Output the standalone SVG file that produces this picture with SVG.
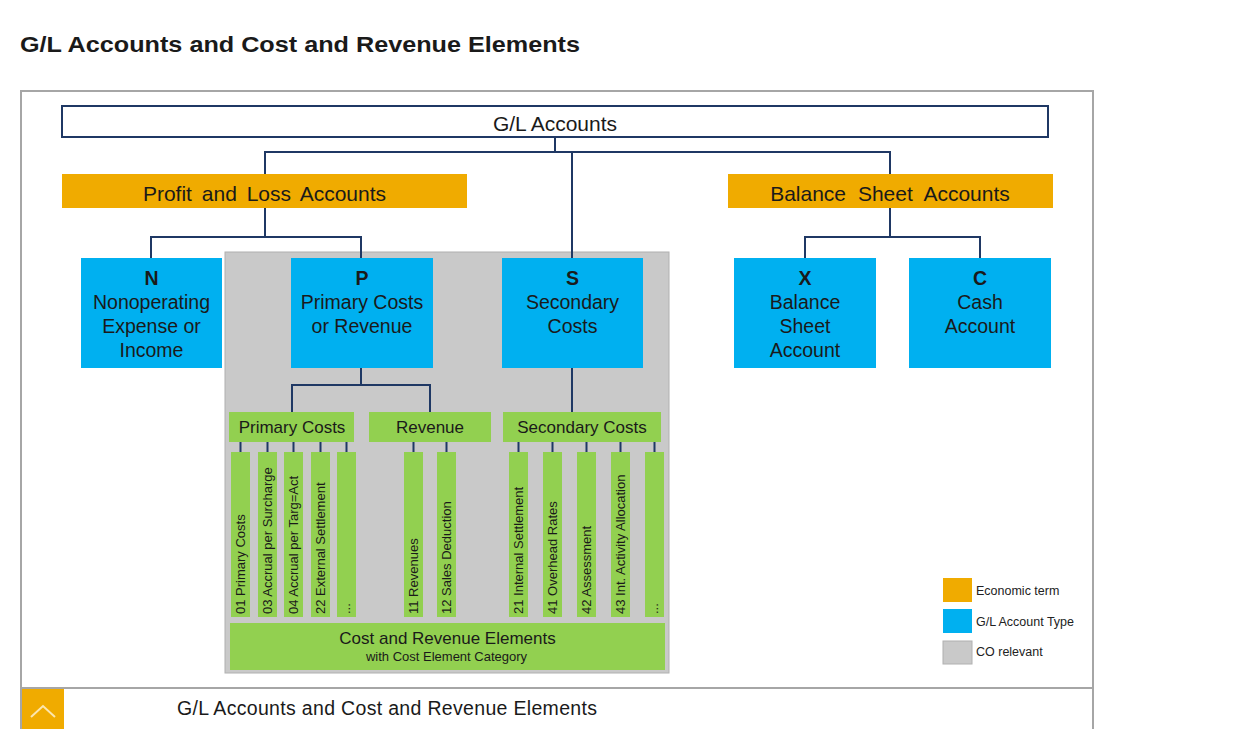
<svg xmlns="http://www.w3.org/2000/svg" width="1241" height="729" viewBox="0 0 1241 729">
<style>
  .frame{fill:none;stroke:#a6a6a6;stroke-width:2}
  .line{fill:none;stroke:#1f3864;stroke-width:2}
  .orange{fill:#f0ab00}
  .blue{fill:#00b0f0}
  .green{fill:#92d050}
  .grayarea{fill:#c9c9c9;stroke:#b0b0b0;stroke-width:1}
  text{font-family:"Liberation Sans",Arial,sans-serif;fill:#1a1a1a}
  .big{font-size:21px;text-anchor:middle}
  .node{font-size:19.5px;text-anchor:middle}
  .letter{font-weight:bold}
  .hdr{font-size:17px;text-anchor:middle}
  .bar{font-size:13px}
  .leg{font-size:12.5px;fill:#222}
</style>
<rect x="0" y="0" width="1241" height="729" fill="#ffffff"/>

<text x="20" y="52" font-size="22" font-weight="bold" textLength="560" lengthAdjust="spacingAndGlyphs" fill="#000">G/L Accounts and Cost and Revenue Elements</text>

<!-- frame -->
<g id="frame">
  <path class="frame" d="M21,729 V91 H1093 V729"/>
  <line class="frame" x1="21" y1="688" x2="1093" y2="688"/>
</g>

<!-- CO relevant area -->
<rect id="co-area" class="grayarea" x="225" y="252" width="444" height="421"/>

<!-- connectors -->
<g id="connectors">
  <path class="line" d="M555,137 V152 M265,174 V152 H890 V174 M572,152 V258"/>
  <path class="line" d="M265,208 V237 M151,258 V237 H361 V258"/>
  <path class="line" d="M890,208 V237 M805,258 V237 H980 V258"/>
  <path class="line" d="M361,368 V385 M292,412 V385 H430 V412"/>
  <path class="line" d="M572,368 V412"/>
  <path class="line" d="M240.5,442 V452 M267.5,442 V452 M293.5,442 V452 M320.5,442 V452 M346.5,442 V452 M413.5,442 V452 M446.5,442 V452 M518.5,442 V452 M552.5,442 V452 M586.5,442 V452 M620.5,442 V452 M654.5,442 V452"/>
</g>

<g id="gl-accounts">
  <rect x="62" y="106" width="986" height="31" fill="#fff" stroke="#1f3864" stroke-width="2"/>
  <text class="big" x="555" y="131">G/L Accounts</text>
</g>

<g id="pl-accounts">
  <rect class="orange" x="62" y="174" width="405" height="34"/>
  <text class="big" x="264.5" y="201" word-spacing="4">Profit and Loss Accounts</text>
</g>

<g id="bs-accounts">
  <rect class="orange" x="728" y="174" width="325" height="34"/>
  <text class="big" x="890" y="201" word-spacing="6">Balance Sheet Accounts</text>
</g>

<g id="node-n">
  <rect class="blue" x="81" y="258" width="141" height="110"/>
  <text class="node letter" x="151.5" y="285">N</text>
  <text class="node" x="151.5" y="309">Nonoperating</text>
  <text class="node" x="151.5" y="333">Expense or</text>
  <text class="node" x="151.5" y="357">Income</text>
</g>

<g id="node-p">
  <rect class="blue" x="291" y="258" width="142" height="110"/>
  <text class="node letter" x="362" y="285">P</text>
  <text class="node" x="362" y="309">Primary Costs</text>
  <text class="node" x="362" y="333">or Revenue</text>
</g>

<g id="node-s">
  <rect class="blue" x="502" y="258" width="141" height="110"/>
  <text class="node letter" x="572.5" y="285">S</text>
  <text class="node" x="572.5" y="309">Secondary</text>
  <text class="node" x="572.5" y="333">Costs</text>
</g>

<g id="node-x">
  <rect class="blue" x="734" y="258" width="142" height="110"/>
  <text class="node letter" x="805" y="285">X</text>
  <text class="node" x="805" y="309">Balance</text>
  <text class="node" x="805" y="333">Sheet</text>
  <text class="node" x="805" y="357">Account</text>
</g>

<g id="node-c">
  <rect class="blue" x="909" y="258" width="142" height="110"/>
  <text class="node letter" x="980" y="285">C</text>
  <text class="node" x="980" y="309">Cash</text>
  <text class="node" x="980" y="333">Account</text>
</g>

<g id="hdr-primary">
  <rect class="green" x="229" y="412" width="125" height="30"/>
  <text class="hdr" x="292" y="433">Primary Costs</text>
</g>
<g id="hdr-revenue">
  <rect class="green" x="369" y="412" width="122" height="30"/>
  <text class="hdr" x="430" y="433">Revenue</text>
</g>
<g id="hdr-secondary">
  <rect class="green" x="503" y="412" width="158" height="30"/>
  <text class="hdr" x="582" y="433">Secondary Costs</text>
</g>

<g id="bars">
  <rect class="green" x="231" y="452" width="19" height="165"/>
  <text class="bar" transform="translate(245,614) rotate(-90)">01 Primary Costs</text>
  <rect class="green" x="258" y="452" width="19" height="165"/>
  <text class="bar" transform="translate(272,614) rotate(-90)">03 Accrual per Surcharge</text>
  <rect class="green" x="284" y="452" width="19" height="165"/>
  <text class="bar" transform="translate(298,614) rotate(-90)">04 Accrual per Targ=Act</text>
  <rect class="green" x="311" y="452" width="19" height="165"/>
  <text class="bar" transform="translate(325,614) rotate(-90)">22 External Settlement</text>
  <rect class="green" x="337" y="452" width="19" height="165"/>
  <text class="bar" font-size="9" transform="translate(350,614) rotate(-90)">...</text>

  <rect class="green" x="404" y="452" width="19" height="165"/>
  <text class="bar" transform="translate(418,614) rotate(-90)">11 Revenues</text>
  <rect class="green" x="437" y="452" width="19" height="165"/>
  <text class="bar" transform="translate(451,614) rotate(-90)">12 Sales Deduction</text>

  <rect class="green" x="509" y="452" width="19" height="165"/>
  <text class="bar" transform="translate(523,614) rotate(-90)">21 Internal Settlement</text>
  <rect class="green" x="543" y="452" width="19" height="165"/>
  <text class="bar" transform="translate(557,614) rotate(-90)">41 Overhead Rates</text>
  <rect class="green" x="577" y="452" width="19" height="165"/>
  <text class="bar" transform="translate(591,614) rotate(-90)">42 Assessment</text>
  <rect class="green" x="611" y="452" width="19" height="165"/>
  <text class="bar" transform="translate(625,614) rotate(-90)">43 Int. Activity Allocation</text>
  <rect class="green" x="645" y="452" width="19" height="165"/>
  <text class="bar" font-size="9" transform="translate(658,614) rotate(-90)">...</text>
</g>

<g id="cost-revenue-elements">
  <rect class="green" x="230" y="623" width="435" height="47"/>
  <text x="447.5" y="644" font-size="17" text-anchor="middle">Cost and Revenue Elements</text>
  <text x="446.5" y="661" font-size="13" text-anchor="middle">with Cost Element Category</text>
</g>

<g id="legend">
  <rect class="orange" x="943" y="578" width="29" height="24"/>
  <text class="leg" x="976" y="595">Economic term</text>
  <rect class="blue" x="943" y="609" width="29" height="24"/>
  <text class="leg" x="976" y="626">G/L Account Type</text>
  <rect x="943" y="641" width="29" height="23" fill="#c9c9c9" stroke="#b0b0b0" stroke-width="1"/>
  <text class="leg" x="976" y="656">CO relevant</text>
</g>

<g id="caption">
  <rect class="orange" x="22" y="689" width="42" height="40"/>
  <polyline points="31,717 43,706 55,717" fill="none" stroke="#fbe6b0" stroke-width="2"/>
  <text x="177" y="715" font-size="19.5" fill="#3c3c3c" textLength="420" lengthAdjust="spacing">G/L Accounts and Cost and Revenue Elements</text>
</g>
</svg>
